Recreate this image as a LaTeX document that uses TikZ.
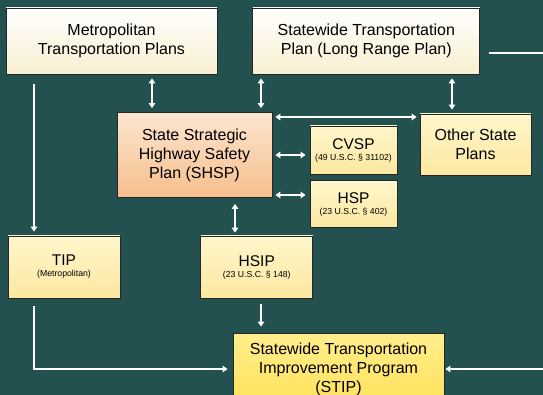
\documentclass[tikz,border=0pt]{standalone}
\usepackage{fontspec}
\setmainfont{Liberation Sans}
\usetikzlibrary{positioning,arrows.meta}

\definecolor{bg}{RGB}{35,81,80}
\definecolor{creambot}{RGB}{249,239,208}
\definecolor{peachtop}{RGB}{253,230,208}
\definecolor{peachbot}{RGB}{246,190,140}
\definecolor{lemontop}{RGB}{255,246,204}
\definecolor{lemonbot}{RGB}{252,232,160}
\definecolor{stiptop}{RGB}{255,238,140}
\definecolor{stipbot}{RGB}{255,226,90}
\newcommand{\subtxt}[1]{{\fontsize{8.7}{9}\selectfont #1}}

\begin{document}
\begin{tikzpicture}[x=1pt,y=-1pt,
  box/.style={draw=black!85,line width=0.8pt,align=center,inner sep=0pt,
    font=\fontsize{16}{19}\selectfont},
  pale/.style={box,top color=white,bottom color=creambot},
  peach/.style={box,top color=peachtop,bottom color=peachbot},
  lemon/.style={box,top color=lemontop,bottom color=lemonbot,font=\fontsize{15.5}{10}\selectfont},
  big/.style={box,top color=stiptop,bottom color=stipbot},
  oneway/.style={white,line width=1.3pt,shorten <=4pt,shorten >=4pt,
    -{Triangle[length=5pt,width=6.5pt]}},
  twoway/.style={oneway,{Triangle[length=5pt,width=6.5pt]}-{Triangle[length=5pt,width=6.5pt]}}]

\fill[bg] (0,0) rectangle (543,395);
\useasboundingbox (0,0) rectangle (543,395);

% plans
\node[pale,minimum width=211pt,minimum height=66pt] (metro) at (111.5,41) {Metropolitan\\Transportation Plans};
\node[pale,minimum width=227pt,minimum height=66pt,right=35pt of metro] (swtp) {Statewide Transportation\\Plan (Long Range Plan)};

\node[peach,minimum width=155pt,minimum height=85pt] (shsp) at (194.5,155) {State Strategic\\Highway Safety\\Plan (SHSP)};
\node[lemon,minimum width=87pt,minimum height=48pt] (cvsp) at (353.5,150) {CVSP\\[1pt]\subtxt{(49 U.S.C. \S\ 31102)}};
\node[lemon,minimum width=87pt,minimum height=47pt,below=6pt of cvsp] (hsp) {HSP\\[1pt]\subtxt{(23 U.S.C. \S\ 402)}};
\node[box,top color=lemontop,bottom color=lemonbot,minimum width=111pt,minimum height=61pt] (other) at (475.5,144.5) {Other State\\Plans};

% programs
\node[lemon,minimum width=112pt,minimum height=62pt] (tip) at (64,267) {TIP\\[1pt]\subtxt{(Metropolitan)}};
\node[lemon,minimum width=112pt,minimum height=62pt,right=80pt of tip] (hsip) {HSIP\\[1pt]\subtxt{(23 U.S.C. \S\ 148)}};
\node[big,minimum width=211pt,minimum height=72pt] (stip) at (338.5,369) {Statewide Transportation\\Improvement Program\\(STIP)};

\coordinate (xa) at (152,0);
\coordinate (xb) at (261,0);
\coordinate (xc) at (452,0);
\coordinate (xd) at (34,0);
\coordinate (xe) at (235,0);
\coordinate (ya) at (0,117);
\coordinate (yb) at (0,155);
\coordinate (yc) at (0,195);
\coordinate (yd) at (0,53);

\draw[twoway] (metro.south -| xa) -- (shsp.north -| xa);
\draw[twoway] (swtp.south -| xb) -- (shsp.north -| xb);
\draw[twoway] (swtp.south -| xc) -- (other.north -| xc);
\draw[twoway,shorten <=3pt,shorten >=3pt] (shsp.east |- ya) -- (other.west |- ya);
\draw[twoway,shorten <=3pt] (shsp.east |- yb) -- (cvsp.west |- yb);
\draw[twoway,shorten <=3pt] (shsp.east |- yc) -- (hsp.west |- yc);
\draw[twoway,shorten <=6pt,shorten >=3pt] (shsp.south -| xe) -- (hsip.north -| xe);
\draw[oneway,shorten <=6pt,shorten >=6pt] (hsip.south -| xb) -- (stip.north -| xb);
\draw[oneway,shorten <=10pt] (metro.south -| xd) -- (tip.north -| xd);
\draw[oneway,shorten <=8pt,shorten >=5pt] (tip.south -| xd) |- (stip.west);
\draw[oneway,shorten <=9pt,shorten >=1pt] (swtp.east |- yd) -- ++(90,0) |- (stip.east);

\end{tikzpicture}
\end{document}
